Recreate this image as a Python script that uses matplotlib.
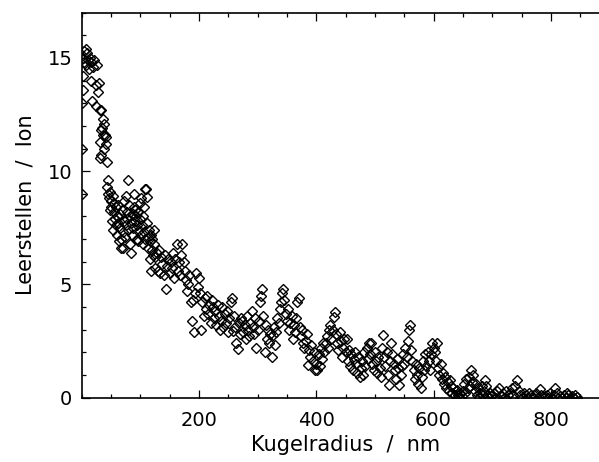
import matplotlib
matplotlib.use('Agg')
import matplotlib.pyplot as plt
from matplotlib.ticker import MultipleLocator

# Leerstellen pro Ion gegen Kugelradius

# 0 - 44 nm, irregular spacing near the surface
radius_a = [0.5, 1, 1.5, 2, 2.5, 3, 4, 5, 7, 8,
            10, 11, 13, 14, 16, 17, 18, 20, 22, 24,
            25, 26, 28, 30, 31, 31.5, 32, 33, 33.5, 34,
            35, 36, 37, 38, 39, 40, 41, 42, 43, 44]
leer_a = [9.0, 11.0, 13.0, 13.6, 14.2, 15.0, 14.8, 15.3, 15.4, 14.7,
          15.2, 14.9, 14.5, 15.0, 14.8, 14.0, 13.1, 14.6, 14.9, 13.8,
          12.9, 14.7, 13.5, 13.9, 12.7, 10.6, 11.3, 11.8, 10.7, 12.7,
          11.9, 12.3, 11.6, 12.1, 11.0, 11.6, 11.2, 11.5, 10.4, 9.3]

# 45 - 125 nm
radius_b = [45, 46, 47, 48, 49, 50, 51, 52, 53, 54,
            55, 56, 57, 58, 59, 60, 61, 62, 63, 64,
            65, 66, 67, 68, 69, 70, 71, 72, 73, 74,
            75, 76, 77, 78, 79, 80, 81, 82, 83, 84,
            85, 86, 87, 88, 89, 90, 91, 92, 93, 94,
            95, 96, 97, 98, 99, 100, 101, 102, 103, 104,
            105, 106, 107, 108, 109, 110, 111, 112, 113, 114,
            115, 116, 117, 118, 119, 120, 121, 122, 123, 124, 125]
leer_b = [9.6, 9.0, 8.8, 8.3, 9.1, 8.7, 8.4, 7.8, 8.9, 7.4,
          8.2, 8.6, 7.9, 8.4, 7.6, 8.0, 7.2, 8.5, 7.7, 6.9,
          8.1, 7.5, 6.6, 7.0, 8.3, 7.3, 6.6, 7.8, 8.7, 7.1,
          8.9, 7.6, 8.2, 7.9, 9.6, 7.4, 8.5, 8.0, 6.8, 7.7,
          6.4, 7.2, 8.1, 7.5, 8.4, 9.0, 7.8, 8.3, 8.0, 7.0,
          7.6, 8.2, 6.9, 7.4, 8.6, 7.9, 7.2, 8.8, 7.6, 6.8,
          8.0, 7.3, 8.4, 9.2, 7.0, 9.2, 7.7, 8.85, 7.1, 6.6,
          7.4, 6.1, 6.9, 5.6, 7.2, 6.5, 7.0, 6.3, 6.8, 7.4, 6.2]

# 126 - 700 nm
radius_c = [126, 128, 130, 132, 134, 136, 138, 140, 142, 144,
            146, 148, 150, 152, 154, 156, 158, 160, 162, 164,
            166, 168, 170, 172, 174, 176, 178, 180, 182, 184,
            186, 188, 190, 192, 194, 196, 198, 200, 202, 204,
            206, 208, 210, 212, 214, 216, 218, 220, 222, 224,
            226, 228, 230, 232, 234, 236, 238, 240, 242, 244,
            246, 248, 250, 252, 254, 256, 258, 260, 262, 264,
            266, 268, 270, 272, 274, 276, 278, 280, 282, 284,
            286, 288, 290, 292, 294, 296, 298, 300, 302, 304,
            306, 308, 310, 312, 314, 316, 318, 320, 322, 324,
            326, 328, 330, 332, 334, 336, 338, 340, 342, 344,
            346, 348, 350, 352, 354, 356, 358, 360, 362, 364,
            366, 368, 370, 372, 374, 376, 378, 380, 382, 384,
            386, 388, 390, 392, 394, 396, 398, 400, 402, 404,
            406, 408, 410, 412, 414, 416, 418, 420, 422, 424,
            426, 428, 430, 432, 434, 436, 438, 440, 442, 444,
            446, 448, 450, 452, 454, 456, 458, 460, 462, 464,
            466, 468, 470, 472, 474, 476, 478, 480, 482, 484,
            486, 488, 490, 492, 494, 496, 498, 500, 502, 504,
            506, 508, 510, 512, 514, 516, 518, 520, 522, 524,
            526, 528, 530, 532, 534, 536, 538, 540, 542, 544,
            546, 548, 550, 552, 554, 556, 558, 560, 562, 564,
            566, 568, 570, 572, 574, 576, 578, 580, 582, 584,
            586, 588, 590, 592, 594, 596, 598, 600, 602, 604,
            606, 608, 610, 612, 614, 616, 618, 620, 622, 624,
            626, 628, 630, 632, 634, 636, 638, 640, 642, 644,
            646, 648, 650, 652, 654, 656, 658, 660, 662, 664,
            666, 668, 670, 672, 674, 676, 678, 680, 682, 684,
            686, 688, 690, 692, 694, 696, 698, 700]
leer_c = [5.7, 6.4, 5.6, 6.5, 5.5, 6.2, 5.9, 5.4, 6.3, 4.8,
          5.8, 6.1, 5.5, 6.0, 5.7, 6.4, 5.3, 6.1, 6.8, 5.6,
          6.0, 5.4, 6.3, 6.8, 6.0, 5.6, 5.2, 4.7, 5.0, 5.4,
          4.2, 3.4, 4.3, 2.9, 4.6, 5.5, 4.9, 5.3, 4.6, 3.0,
          4.2, 3.6, 4.4, 3.9, 4.5, 3.7, 4.1, 3.3, 4.3, 4.0,
          3.5, 3.8, 3.2, 4.1, 3.6, 3.0, 3.4, 4.0, 3.1, 3.7,
          3.3, 3.8, 2.9, 3.5, 4.2, 4.4, 2.95, 3.6, 3.1, 2.4,
          2.15, 3.3, 2.8, 3.5, 3.4, 2.9, 3.2, 2.6, 3.6, 3.0,
          2.7, 3.3, 3.8, 3.1, 2.8, 3.5, 2.2, 3.0, 3.4, 4.2,
          4.5, 4.8, 3.6, 2.0, 3.2, 2.6, 3.0, 2.4, 2.8, 1.8,
          2.75, 3.1, 2.3, 2.9, 3.5, 3.3, 3.9, 4.2, 4.6, 4.8,
          4.3, 3.7, 3.4, 3.9, 3.0, 3.3, 3.6, 2.6, 3.2, 2.9,
          3.5, 4.2, 4.4, 3.1, 2.7, 3.0, 2.4, 2.2, 2.5, 2.8,
          1.43, 2.1, 1.8, 2.3, 1.6, 2.0, 1.2, 1.5, 1.2, 1.9,
          1.4, 2.2, 1.7, 2.4, 2.0, 2.4, 2.7, 2.2, 3.0, 3.2,
          2.6, 3.0, 3.56, 3.78, 2.8, 2.4, 2.1, 2.9, 2.5, 1.8,
          2.2, 2.6, 2.0, 2.6, 1.6, 2.1, 1.4, 1.9, 1.2, 1.7,
          2.0, 1.5, 1.1, 1.8, 0.9, 1.3, 1.6, 1.0, 2.0, 1.4,
          2.2, 1.7, 2.4, 1.9, 2.4, 1.5, 1.2, 2.0, 1.6, 1.1,
          1.8, 1.3, 0.9, 2.2, 2.75, 1.8, 1.4, 2.0, 1.0, 0.55,
          1.6, 2.4, 1.9, 1.5, 1.2, 0.8, 1.7, 1.3, 0.55, 1.0,
          1.4, 1.9, 1.5, 2.2, 1.8, 2.5, 2.97, 3.2, 2.1, 1.6,
          1.2, 0.8, 1.5, 1.0, 0.6, 1.3, 0.4, 0.9, 1.6, 1.2,
          1.9, 1.4, 2.0, 1.6, 1.2, 1.9, 2.4, 2.2, 2.0, 1.6,
          2.4, 1.3, 1.0, 1.5, 0.8, 1.1, 0.6, 0.9, 0.4, 0.7,
          0.3, 0.77, 0.5, 0.2, 0.4, 0.1, 0.3, 0.33, 0.1, 0.0,
          0.2, 0.05, 0.3, 0.6, 0.2, 0.8, 0.4, 0.9, 0.5, 1.2,
          0.7, 1.0, 0.3, 0.6, 0.1, 0.4, 0.0, 0.2, 0.5, 0.1,
          0.3, 0.77, 0.5, 0.1, 0.0, 0.2, 0.05, 0.1]

# 703 - 844 nm, tail
radius_d = [703, 706, 709, 712, 715, 718, 721, 724, 727, 730,
            733, 736, 739, 742, 745, 748, 751, 754, 757, 760,
            763, 766, 769, 772, 775, 778, 781, 784, 787, 790,
            793, 796, 799, 802, 805, 807, 810, 813, 816, 819,
            822, 825, 827, 830, 833, 836, 839, 842, 844]
leer_d = [0.2, 0.0, 0.3, 0.42, 0.1, 0.2, 0.0, 0.3, 0.1, 0.2,
          0.4, 0.1, 0.5, 0.77, 0.3, 0.1, 0.0, 0.2, 0.1, 0.0,
          0.2, 0.1, 0.0, 0.1, 0.2, 0.0, 0.36, 0.1, 0.0, 0.05,
          0.1, 0.0, 0.2, 0.0, 0.1, 0.4, 0.2, 0.0, 0.05, 0.0,
          0.1, 0.0, 0.21, 0.1, 0.0, 0.05, 0.0, 0.1, 0.03]

radius = radius_a + radius_b + radius_c + radius_d
leer = leer_a + leer_b + leer_c + leer_d

W, H = 599, 462
fig = plt.figure(figsize=(W/100.0, H/100.0), dpi=100)
# axes run off the right edge like in the original (x range 0..900)
ax = fig.add_axes([81.5/W, 64.5/H, 528.0/W, 384.8/H])

ax.plot(radius, leer, linestyle='none', marker='D', markersize=5.0,
        markerfacecolor='none', markeredgecolor='black', markeredgewidth=1.0)

ax.set_xlim(0, 900)
ax.set_ylim(0, 17)
ax.set_xticks([200, 400, 600, 800])
ax.xaxis.set_minor_locator(MultipleLocator(50))
ax.set_yticks([0, 5, 10, 15])
ax.yaxis.set_minor_locator(MultipleLocator(1))

ax.spines['right'].set_visible(False)
for s in ['left', 'bottom', 'top']:
    ax.spines[s].set_linewidth(1.2)

ax.tick_params(which='both', direction='in', top=True, right=False, width=0.9)
ax.tick_params(which='major', length=5.8, labelsize=14)
ax.tick_params(which='minor', length=3.0)
ax.tick_params(axis='x', pad=10)
ax.tick_params(axis='y', pad=6.5)

ax.set_xlabel('Kugelradius  /  nm', fontsize=15, labelpad=3)
ax.set_ylabel('Leerstellen  /  Ion', fontsize=15, labelpad=9)

fig.savefig('out.png', dpi=100)
